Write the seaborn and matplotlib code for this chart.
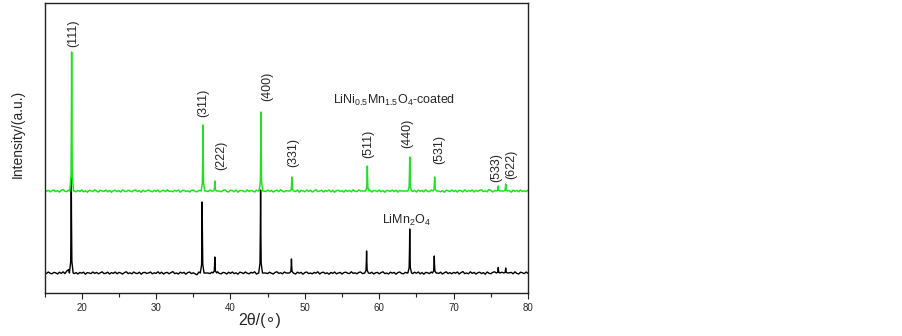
import numpy as np
import pandas as pd
import matplotlib
matplotlib.use("Agg")
import matplotlib.pyplot as plt
import seaborn as sns

# ---------------- data ----------------
base_2theta_start, base_2theta_step = 15.0, 0.25
black_base = [4, -6, 10, -2, -8, 6, 2, -10, 8, -4, 12, -6, 20, 35, 0, 0, -6, 4, -10, 6,
              -2, 8, -12, 4, 0, -6, 10, -4, 6, -8, 2, 12, -6, -2, 8, -10, 4, -4, 10, -8,
              6, 0, -10, 4, 12, -6, 2, -8, 10, -2, -6, 8, -12, 4, 6, -4, 0, 10, -8, 2,
              -4, 12, -6, 8, -10, 2, 6, -8, 4, 14, -6, 0, -10, 8, -2, 6, -12, 4, 10, -6,
              2, -8, -18, 10, 4, 0, 0, 0, 0, -6, 8, -10, 4, 12, -4, -8, 6, 2, -10, 8,
              -4, 10, -6, 2, -12, 8, 4, -6, 10, -2, -8, 6, 0, 12, -10, 4, 0, 0, 0, 0,
              -6, 8, -2, -10, 6, 12, -4, 2, -8, 10, 0, 0, 0, -6, 4, -10, 8, -2, 6, -12,
              4, 10, -6, 0, -8, 6, -2, 12, -10, 4, 8, -6, 2, -12, 6, -4, 10, -8, 0, 6,
              -10, 4, 8, -2, -6, 12, -4, 2, -8, 6, 10, -6, 0, 0, 0, -4, 8, -10, 2, 6,
              -8, 4, 12, -6, 0, -10, 8, -2, 6, -12, 4, 10, -4, -8, 6, 0, 0, 0, -6, 8,
              -2, 10, -8, 4, -12, 6, 2, -6, 10, 0, 0, 0, -4, 8, -10, 2, 12, -6, 4, -8,
              6, -2, 10, -10, 4, 14, -6, 0, -8, 12, -4, 6, -10, 2, 8, -6, 4, -12, 10, -2,
              -8, 6, 12, -4, -10, 4, 8, -6, 10, -12, 2, 6, -8, 12, -4, -10, 8, 2, -6, 10,
              -4]
green_base = [12, -4, 8, -8, 2, 10, -6, 4, -10, 6, 14, -2, -6, 8, 0, 0, 0, -8, 6, -4,
              10, -8, 2, -12, 6, 4, -6, 12, -2, -10, 8, 0, -4, 10, -8, 6, -12, 2, 8, -6,
              4, -10, 12, -2, -6, 8, 0, -8, 6, 10, -4, 2, -12, 8, -6, 4, 10, -2, -8, 6,
              -4, 10, -10, 2, 8, -6, 12, -4, 0, -8, 6, -2, 10, -12, 4, 8, -6, 2, -10, 6,
              10, -4, -8, 6, 0, 0, 0, 0, -6, 10, -2, 4, 0, 0, 0, -8, 6, 12, -4, -10,
              8, 2, -6, 10, -12, 4, 6, -2, -8, 12, -4, 6, 0, -10, 8, 0, 0, 0, 0, -6,
              10, -4, 6, -10, 2, 8, -6, 12, -2, -8, 4, 0, 0, 0, 0, -6, 10, -12, 6, 2,
              -8, 10, -4, 6, -10, 2, 12, -6, 0, 8, -10, 4, -2, 10, -8, 6, -12, 4, 8, -4,
              2, -10, 8, -4, 6, -8, 12, -2, -6, 10, 0, 0, 0, 0, -4, 8, -10, 6, 2, -6,
              10, -8, 4, -12, 6, 2, -4, 10, -6, 8, -10, 4, 0, 0, 0, 0, -6, 12, -4, 6,
              -10, 8, -2, 6, -8, 12, -4, -6, 10, 0, 0, 0, 0, -8, 4, -12, 8, 2, -6, 10,
              -4, 6, -10, 8, 2, -8, 12, -6, 4, -2, 10, -10, 6, -4, 8, 12, -6, 2, -8, 14,
              6, -10, 4, -4, 0, 0, 0, -8, 10, -6, 4, -12, 8, -2, 6, -8, 10, -4, 2, -6,
              8]

black_peak_pos = [18.6, 36.2, 37.9, 44.05, 48.2, 58.3, 64.1, 67.4, 76.0, 77.0]
black_peak_h = [950, 710, 160, 830, 140, 220, 440, 170, 55, 50]
green_peak_pos = [18.65, 36.3, 37.9, 44.1, 48.25, 58.4, 64.1, 67.45, 76.0, 77.0]
green_peak_h = [1390, 660, 100, 790, 140, 250, 340, 140, 50, 70]
green_offset = 820

hkl_labels = ["(111)", "(311)", "(222)", "(400)", "(331)", "(511)", "(440)", "(531)", "(533)", "(622)"]
hkl_x = [18.8, 36.4, 38.7, 45.0, 48.4, 58.5, 63.8, 68.1, 75.7, 77.7]
hkl_y = [2260, 1560, 1030, 1720, 1060, 1150, 1250, 1090, 910, 940]

series_names = [r"LiNi$_{0.5}$Mn$_{1.5}$O$_4$-coated", r"LiMn$_2$O$_4$"]
series_label_x = [62.0, 63.6]
series_label_y = [1730, 530]


# ---------------- build profiles from the read values ----------------
def profile(base, pos, h, offset):
    xs = [base_2theta_start + i * base_2theta_step for i in range(len(base))]
    pts = [(x, b) for x, b in zip(xs, base)
           if all(abs(x - p) > 0.3 for p in pos)]
    for p, hh in zip(pos, h):
        pts += [(p - 0.25, 0), (p - 0.08, 0.12 * hh), (p - 0.03, 0.55 * hh),
                (p, hh), (p + 0.03, 0.55 * hh), (p + 0.08, 0.12 * hh), (p + 0.25, 0)]
    pts.sort()
    return pd.DataFrame({"2theta": [q[0] for q in pts],
                         "I": [q[1] + offset for q in pts]})


df_black = profile(black_base, black_peak_pos, black_peak_h, 0)
df_green = profile(green_base, green_peak_pos, green_peak_h, green_offset)

# ---------------- plot ----------------
sns.set_theme(style="white")
plt.rcParams["font.family"] = ["Liberation Sans", "DejaVu Sans"]
plt.rcParams["mathtext.fontset"] = "custom"
plt.rcParams["mathtext.rm"] = "Liberation Sans"
plt.rcParams["mathtext.default"] = "regular"

fig = plt.figure(figsize=(9.02, 3.36), dpi=100)
ax = fig.add_axes([44.5 / 902, 1 - 293 / 336, (528 - 44.5) / 902, (293 - 3) / 336])

sns.lineplot(data=df_black, x="2theta", y="I", ax=ax, color="black",
             lw=1.0, sort=False, estimator=None)
sns.lineplot(data=df_green, x="2theta", y="I", ax=ax, color="#1ee21e",
             lw=1.1, sort=False, estimator=None)

ax.set_xlim(15, 80)
ax.set_ylim(-200, 2700)
ax.set_yticks([])
ax.set_xticks([20, 30, 40, 50, 60, 70, 80])
ax.set_xticks([15, 25, 35, 45, 55, 65, 75], minor=True)
ax.tick_params(axis="x", which="major", direction="out", length=4, width=0.8,
               labelsize=7, pad=3, bottom=True, color="#222222")
ax.tick_params(axis="x", which="minor", direction="out", length=3, width=0.8,
               bottom=True, color="#222222")
for s in ax.spines.values():
    s.set_color("#222222")
    s.set_linewidth(1.0)

for lab, x, y in zip(hkl_labels, hkl_x, hkl_y):
    ax.text(x, y, lab, rotation=90, ha="center", va="bottom", fontsize=9)

for name, x, y in zip(series_names, series_label_x, series_label_y):
    ax.text(x, y, name, ha="center", va="center", fontsize=9)

ax.set_xlabel("2θ/(∘)", fontsize=11.5)
ax.xaxis.set_label_coords((260 - 44.5) / (528 - 44.5), -0.07)
ax.set_ylabel("Intensity/(a.u.)", fontsize=10)
ax.yaxis.set_label_coords(-0.04, 0.55)

fig.savefig("out.png", dpi=100, facecolor="white")
